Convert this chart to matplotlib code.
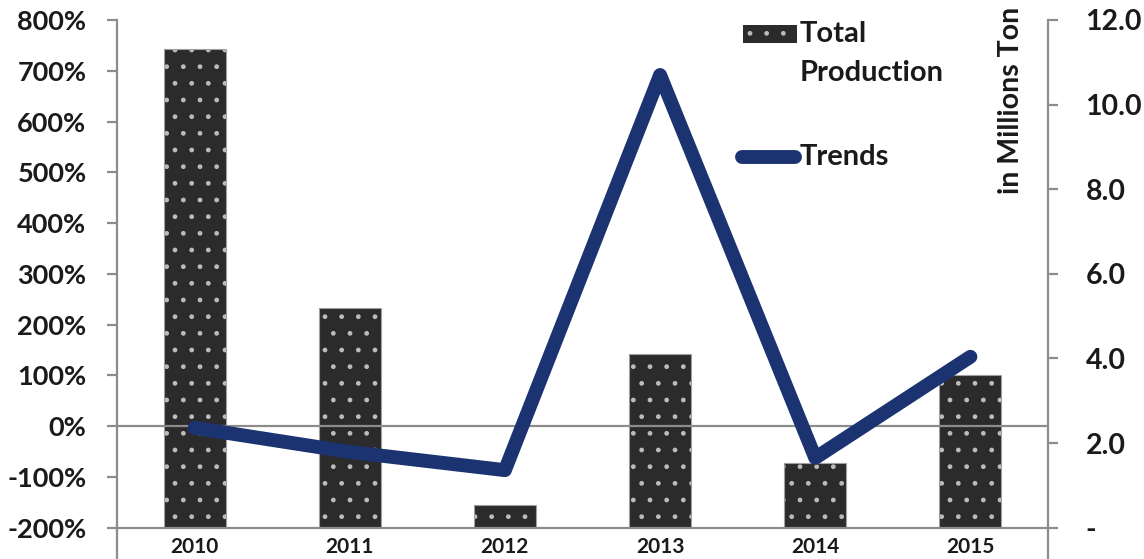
import matplotlib.pyplot as plt
from matplotlib.patches import Rectangle
from matplotlib.lines import Line2D
from matplotlib.ticker import FuncFormatter

plt.rcParams['font.family'] = ['Lato', 'DejaVu Sans']
plt.rcParams['font.weight'] = 'bold'

years = ['2010', '2011', '2012', '2013', '2014', '2015']
growth_pct = [743, 233, -156, 143, -72, 100]   # bars, left axis (%)
trend_mt = [2.36, 1.79, 1.36, 10.70, 1.65, 4.04]  # line, right axis (million ton)

BAR_C = '#2b2b2b'
DOT_C = '#bcbcbc'
EDGE_C = '#a0a0a0'
LINE_C = '#1c3372'
GRAY = '#8c8c8c'
TXT = '#1a1a1a'

W, H = 1144, 559
fig = plt.figure(figsize=(W / 100, H / 100), dpi=100)
ax = fig.add_axes([117 / W, 1 - 527.7 / H, (1048 - 117) / W, (527.7 - 20) / H])
x = list(range(len(years)))

# bars grow up from the -200% floor
base = -200
heights = [v - base for v in growth_pct]
ax.bar(x, heights, bottom=base, width=0.4,
       color=BAR_C, edgecolor=DOT_C, linewidth=0, hatch='.', zorder=2)
ax.bar(x, heights, bottom=base, width=0.4, fill=False,
       edgecolor=EDGE_C, linewidth=0.8, zorder=2)
ax.axhline(0, color=GRAY, lw=1.6, zorder=3)
ax.axhline(base, color=GRAY, lw=1.6, zorder=3, clip_on=False)

ax.set_xlim(-0.5, len(years) - 0.5)
ax.set_ylim(-200, 800)
ax.set_yticks(range(-200, 801, 100))
ax.yaxis.set_major_formatter(FuncFormatter(lambda v, p: f'{v:.0f}%'))
ax.set_xticks(x)
ax.set_xticklabels(years)
ax.tick_params(axis='x', length=0, pad=7, labelsize=15, labelcolor=TXT)
ax.tick_params(axis='y', length=7, width=1.6, color=GRAY, pad=15,
               labelsize=19.5, labelcolor=TXT)
for s in ['top', 'right', 'bottom']:
    ax.spines[s].set_visible(False)
ax.spines['left'].set_color(GRAY)
ax.spines['left'].set_linewidth(1.6)
ax.spines['left'].set_bounds(-265, 800)

ax2 = ax.twinx()
ax2.plot(x, trend_mt, color=LINE_C, lw=10, solid_capstyle='round',
         solid_joinstyle='round', zorder=4)
ax2.set_ylim(0, 12)
ax2.set_yticks(range(0, 13, 2))
ax2.yaxis.set_major_formatter(
    FuncFormatter(lambda v, p: '-' if v == 0 else f'{v:.1f}'))
ax2.tick_params(axis='y', length=7, width=1.6, color=GRAY, pad=20,
                labelsize=20.5, labelcolor=TXT)
for s in ['top', 'left', 'bottom']:
    ax2.spines[s].set_visible(False)
ax2.spines['right'].set_color(GRAY)
ax2.spines['right'].set_linewidth(1.6)
ax2.spines['right'].set_bounds(-0.76, 12)

fig.text(1011 / W, 1 - 7 / H, 'in Millions Ton', rotation=90, ha='center',
         va='top', fontsize=20.5, fontweight='bold', color=TXT)

# legend drawn by hand
fig.add_artist(Rectangle((743 / W, 1 - 43 / H), 54 / W, 18 / H,
                         transform=fig.transFigure, facecolor=BAR_C,
                         edgecolor=DOT_C, linewidth=0, hatch='.'))
fig.text(800 / W, 1 - 34 / H, 'Total', ha='left', va='center',
         fontsize=21, fontweight='bold', color=TXT)
fig.text(800 / W, 1 - 73 / H, 'Production', ha='left', va='center',
         fontsize=21, fontweight='bold', color=TXT)
fig.add_artist(Line2D([742 / W, 795 / W], [1 - 157 / H, 1 - 157 / H],
                      transform=fig.transFigure, color=LINE_C, lw=10,
                      solid_capstyle='round'))
fig.text(800 / W, 1 - 157 / H, 'Trends', ha='left', va='center',
         fontsize=21, fontweight='bold', color=TXT)

fig.savefig('out.png', dpi=100)
